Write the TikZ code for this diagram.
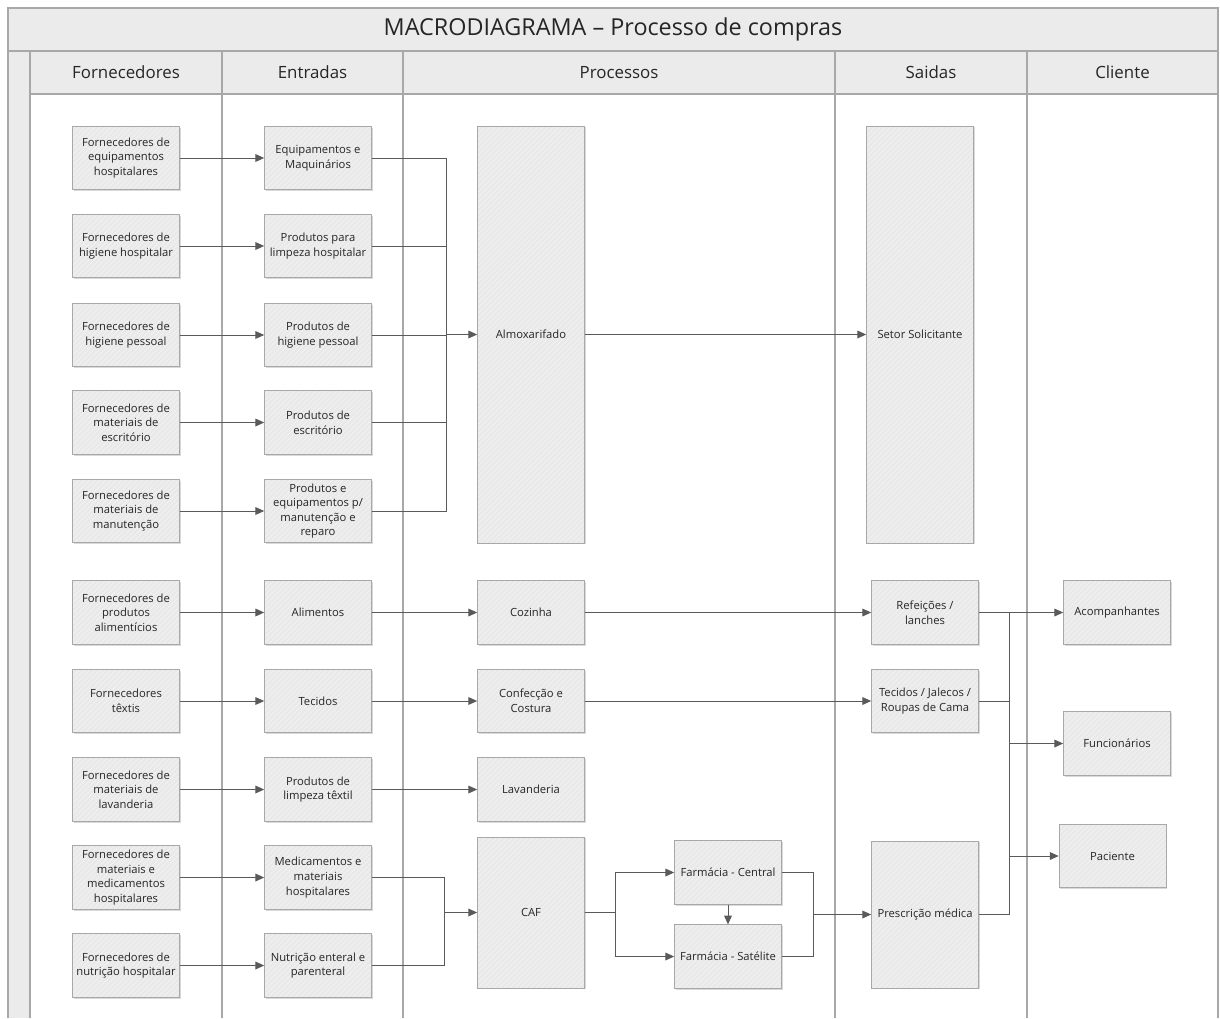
\documentclass[tikz,border=0pt]{standalone}
\usepackage{fontspec}
\setmainfont{Open Sans}
\usetikzlibrary{arrows.meta, shadows, patterns}

\definecolor{lanegray}{HTML}{EBEBEB}
\definecolor{boxgray}{HTML}{E9E9E9}
\definecolor{rulegray}{HTML}{A8A8A8}
\definecolor{flowgray}{HTML}{5A5A5A}
\definecolor{textgray}{HTML}{262626}

\tikzset{
  proc/.style={fill=boxgray,
    postaction={pattern=north east lines, pattern color=white!45!boxgray},
    postaction={draw=rulegray},
    minimum width=2.14cm, minimum height=1.27cm, inner sep=1pt, align=center, text=textgray,
    font=\fontsize{6.4}{8.3}\selectfont,
    drop shadow={shadow xshift=0.8pt, shadow yshift=-0.8pt, opacity=0.3}},
  flow/.style={draw=flowgray, line width=0.55pt},
  tip/.style={flow, -{Triangle[length=5pt,width=4.4pt]}},
  lanehead/.style={text=textgray, font=\fontsize{9.6}{11}\selectfont}
}

\begin{document}
\begin{tikzpicture}[x=0.02cm, y=-0.02cm]
\useasboundingbox (0,0) rectangle (1220,1018);
% Pool, title bar and lane heads
\fill[lanegray] (8,8) rectangle (1218,51);
\fill[lanegray] (30,51) rectangle (1218,94);
\fill[lanegray] (8,51) rectangle (30,1018);
\draw[rulegray, line width=0.9pt] (8,1018) -- (8,8) -- (1218,8) -- (1218,1018);
\draw[rulegray, line width=0.9pt] (8,51) -- (1218,51);
\draw[rulegray, line width=0.9pt] (30,94) -- (1218,94);
\foreach \x in {30,222,403,835,1027}
  \draw[rulegray, line width=0.9pt] (\x,51) -- (\x,1018);
\node[text=textgray, font=\fontsize{13.3}{15}\selectfont] (title) at (613,29.5) {MACRODIAGRAMA -- Processo de compras};
\node[lanehead] (hforn) at (126,72.5) {Fornecedores};
\node[lanehead] (hentr) at (312.5,72.5) {Entradas};
\node[lanehead] (hproc) at (619,72.5) {Processos};
\node[lanehead] (hsaid) at (931,72.5) {Saidas};
\node[lanehead] (hclie) at (1122.5,72.5) {Cliente};

% Fornecedores
\node[proc] (f1) at (126,158) {Fornecedores de\\equipamentos\\hospitalares};
\node[proc] (f2) at (126,246) {Fornecedores de\\higiene hospitalar};
\node[proc] (f3) at (126,335) {Fornecedores de\\higiene pessoal};
\node[proc] (f4) at (126,422.5) {Fornecedores de\\materiais de\\escritório};
\node[proc] (f5) at (126,511) {Fornecedores de\\materiais de\\manutenção};
\node[proc] (f6) at (126,612.5) {Fornecedores de\\produtos\\alimentícios};
\node[proc] (f7) at (126,701) {Fornecedores\\têxtis};
\node[proc] (f8) at (126,789.5) {Fornecedores de\\materiais de\\lavanderia};
\node[proc] (f9) at (126,877.5) {Fornecedores de\\materiais e\\medicamentos\\hospitalares};
\node[proc] (f10) at (126,965.5) {Fornecedores de\\nutrição hospitalar};

% Entradas
\node[proc] (e1) at (318,158) {Equipamentos e\\Maquinários};
\node[proc] (e2) at (318,246) {Produtos para\\limpeza hospitalar};
\node[proc] (e3) at (318,335) {Produtos de\\higiene pessoal};
\node[proc] (e4) at (318,422.5) {Produtos de\\escritório};
\node[proc] (e5) at (318,511) {Produtos e\\equipamentos p/\\manutenção e\\reparo};
\node[proc] (e6) at (318,612.5) {Alimentos};
\node[proc] (e7) at (318,701) {Tecidos};
\node[proc] (e8) at (318,789.5) {Produtos de\\limpeza têxtil};
\node[proc] (e9) at (318,877.5) {Medicamentos e\\materiais\\hospitalares};
\node[proc] (e10) at (318,965.5) {Nutrição enteral e\\parenteral};

% Processos
\node[proc, minimum height=8.34cm] (almox) at (531,334.5) {Almoxarifado};
\node[proc] (cozinha) at (531,612.5) {Cozinha};
\node[proc] (costura) at (531,701) {Confecção e\\Costura};
\node[proc] (lavand) at (531,789.5) {Lavanderia};
\node[proc, minimum height=3.02cm] (caf) at (531,912.5) {CAF};
\node[proc] (farmc) at (728,872.5) {Farmácia - Central};
\node[proc] (farms) at (728,956.5) {Farmácia - Satélite};

% Saidas
\node[proc, minimum height=8.34cm] (setor) at (920,334.5) {Setor Solicitante};
\node[proc] (refei) at (925,612.5) {Refeições /\\lanches};
\node[proc] (roupas) at (925,701) {Tecidos / Jalecos /\\Roupas de Cama};
\node[proc, minimum height=2.94cm] (presc) at (925,914.5) {Prescrição médica};

% Cliente
\node[proc] (acomp) at (1117,612.5) {Acompanhantes};
\node[proc] (func) at (1117,743.5) {Funcionários};
\node[proc] (pac) at (1112.5,856) {Paciente};

% Junction points
\coordinate (busA) at (446,334.5);
\coordinate (busB) at (444,912.5);
\coordinate (fork) at (615,912.5);
\coordinate (busC) at (813,914.5);
\coordinate (sb1) at (1009,612.5);
\coordinate (sb2) at (1009,743.5);
\coordinate (sb3) at (1009,856);

% Fornecedores to Entradas
\foreach \i in {1,...,10}
  \draw[tip] (f\i) -- (e\i);
% Entradas to Almoxarifado
\foreach \i in {1,...,5}
  \draw[flow] (e\i) -| (busA);
\draw[tip] (busA) -- (almox);
\draw[tip] (almox) -- (setor);
% Rows of the lower part
\draw[tip] (e6) -- (cozinha);
\draw[tip] (e7) -- (costura);
\draw[tip] (e8) -- (lavand);
\draw[tip] (cozinha) -- (refei);
\draw[tip] (costura) -- (roupas);
% CAF and pharmacies
\draw[flow] (e9) -| (busB);
\draw[flow] (e10) -| (busB);
\draw[tip] (busB) -- (caf);
\draw[flow] (caf) -- (fork);
\draw[tip] (fork) |- (farmc);
\draw[tip] (fork) |- (farms);
\draw[tip] (farmc) -- (farms);
\draw[flow] (farmc) -| (busC);
\draw[flow] (farms) -| (busC);
\draw[tip] (busC) -- (presc);
% Saidas to Cliente
\draw[tip] (refei) -- (acomp);
\draw[flow] (roupas) -| (sb1);
\draw[flow] (presc) -| (sb1);
\draw[tip] (sb2) -- (func);
\draw[tip] (sb3) -- (pac);
\end{tikzpicture}
\end{document}
